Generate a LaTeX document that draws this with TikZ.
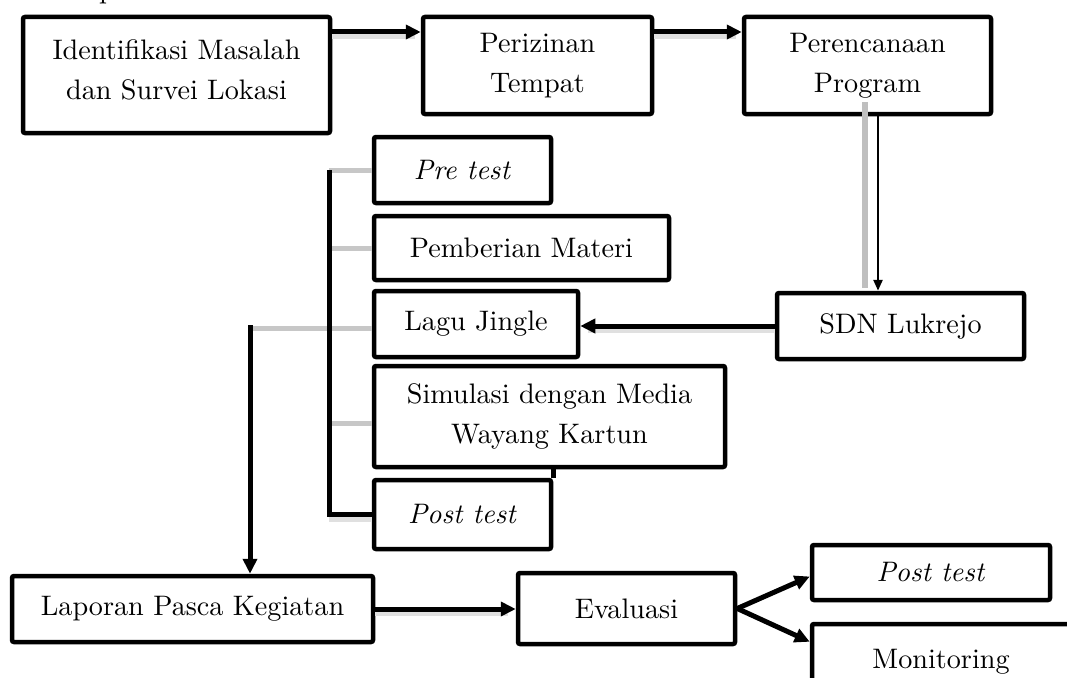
\documentclass[tikz,border=0pt]{standalone}
\usepackage{fontspec}
\setmainfont{lmroman10-regular.otf}[ItalicFont=lmroman10-italic.otf]
\usetikzlibrary{arrows.meta}
\begin{document}
\begin{tikzpicture}[x=1pt,y=-1pt,
  box/.style={draw=black, line width=4.5pt, rounded corners=2pt, fill=white,
    align=center, inner sep=0pt, font=\fontsize{28.2}{40}\selectfont},
  arr/.style={line width=5pt, -{Triangle[length=15pt,width=14pt]}},
  thinarr/.style={line width=2.5pt, -{Triangle[length=11pt,width=9pt]}},
  blk/.style={line width=5pt},
  grayln/.style={draw=black!22, line width=5pt},
  shadowln/.style={draw=black!12, line width=6pt},
  frag/.style={font=\fontsize{28.2}{40}\selectfont, inner sep=0pt}
]
\useasboundingbox (0,0) rectangle (1067,677);
\clip (0,0) rectangle (1067,677);

% clipped text fragment at the top
\node[frag, anchor=base west] (frag) at (99,-1.5) {p};

% nodes
\node[box, minimum width=307pt, minimum height=116pt] (b1) at (176.5,75) {Identifikasi Masalah\\dan Survei Lokasi\\[-30pt]};
\node[box, minimum width=229pt, minimum height=97pt] (b2) at (537.5,65.5) {Perizinan\\Tempat};
\node[box, minimum width=247pt, minimum height=97pt] (b3) at (867.5,65.5) {Perencanaan\\Program};
\node[box, minimum width=247pt, minimum height=66pt] (sdn) at (900.5,326) {SDN Lukrejo};
\node[box, minimum width=177pt, minimum height=66pt] (pre) at (462.5,170) {\textit{Pre test}};
\node[box, minimum width=295pt, minimum height=64pt] (mat) at (521.5,248) {Pemberian Materi};
\node[box, minimum width=204pt, minimum height=66pt] (lagu) at (476,324) {Lagu Jingle};
\node[box, minimum width=351pt, minimum height=101pt] (sim) at (549.5,416.5) {Simulasi dengan Media\\Wayang Kartun};
\node[box, minimum width=177pt, minimum height=69pt] (post) at (462.5,514.5) {\textit{Post test}};
\node[box, minimum width=361pt, minimum height=66pt] (lap) at (192.5,609) {Laporan Pasca Kegiatan};
\node[box, minimum width=217pt, minimum height=71pt] (eva) at (626.5,608.5) {Evaluasi};
\node[box, minimum width=238pt, minimum height=55pt] (post2) at (931,572.5) {\textit{Post test}};
\node[box, minimum width=258pt, minimum height=76pt] (mon) at (941,662) {Monitoring};

% extra edge between Simulasi and Post test
\draw[line width=4.5pt] (post.north east) -- (post.north east |- sim.south);

\coordinate (brtop) at (329,170);
\coordinate (jl) at (250,325);
\coordinate (sh1) at (865,102);
\coordinate (sh2) at (865,288);

% gray connectors
\draw[grayln] (pre.west -| brtop) -- (pre.west);
\draw[grayln] (mat.west -| brtop) -- (mat.west);
\draw[grayln] ([yshift=-4pt]lagu.west -| jl) -- ([yshift=-4pt]lagu.west);
\draw[grayln] ([yshift=-7pt]sim.west -| brtop) -- ([yshift=-7pt]sim.west);
\draw[draw=black!25, line width=6pt] (sh1) -- (sh2);

% shadows of arrows
\draw[shadowln] ([yshift=-4pt]b1.east |- 0,32) -- ([yshift=-4pt,xshift=-6pt]b2.west |- 0,32);
\draw[shadowln] ([yshift=-4pt]b2.east |- 0,32) -- ([yshift=-4pt,xshift=-6pt]b3.west |- 0,32);
\draw[shadowln] ([yshift=-4pt]sdn.west) -- ([yshift=-4pt,xshift=8pt]sdn.west -| lagu.east);
\draw[shadowln] ([yshift=-4pt]lap.east) -- ([yshift=-4pt,xshift=-8pt]lap.east -| eva.west);
\draw[shadowln] ([yshift=-4pt]brtop |- post.west) -- ([yshift=-4pt]post.west);

% black connectors
\draw[arr] (b1.east |- 0,32) -- (b2.west |- 0,32);
\draw[arr] (b2.east |- 0,32) -- (b3.west |- 0,32);
\draw[thinarr] ([xshift=10.5pt]b3.south) -- ([xshift=10.5pt]b3.south |- sdn.north);
\draw[arr] (sdn.west) -- (sdn.west -| lagu.east);
\draw[blk] (brtop) |- (post.west);
\draw[arr] (jl) -- (jl |- lap.north);
\draw[arr] (lap.east) -- (lap.east -| eva.west);
\draw[arr] (eva.east) -- ([yshift=-4pt]post2.west);
\draw[arr] (eva.east) -- ([yshift=-20pt]mon.north west);
\end{tikzpicture}
\end{document}
